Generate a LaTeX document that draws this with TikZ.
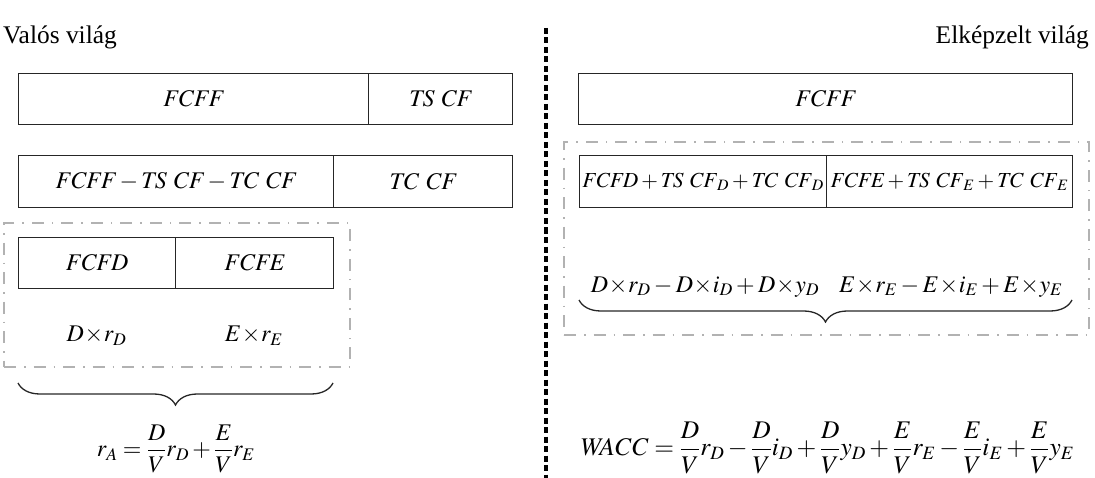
\documentclass[tikz,border=0pt]{standalone}
\usepackage{amsmath}
\usepackage{mathptmx}
\usepackage{fontspec}
\setmainfont{Liberation Serif}
\usetikzlibrary{decorations.pathreplacing}
\newcommand\tms{\!\times\!}
\begin{document}
\begin{tikzpicture}[x=1bp,y=-1bp,
  font=\fontsize{24}{28}\selectfont,
  title/.style={font=\fontsize{25.5}{30}\selectfont, inner sep=0pt},
  cell/.style={draw=black!85, line width=1.3bp, minimum height=51bp, inner sep=0pt, anchor=north west},
  small/.style={font=\fontsize{21.5}{26}\selectfont},
  gbox/.style={draw=black!30, line width=2.2bp, dash pattern=on 12bp off 8bp on 1.5bp off 8bp, inner sep=0pt, anchor=north west},
  sep/.style={draw=black, line width=3.2bp, dash pattern=on 6bp off 3.5bp},
  cbrace/.style={draw=black!85, line width=1.3bp, decorate, decoration={brace, mirror, amplitude=22bp}}
]
\useasboundingbox (0,0) rectangle (1095,478);

% titles
\node[title, anchor=base west] (valos) at (3,44) {Valós világ};
\node[title, anchor=base east] (elk) at (1089,44) {Elképzelt világ};

% separator
\coordinate (septop) at (546,28);
\coordinate (sepbot) at (546,478);
\draw[sep] (septop) -- (sepbot);

% ---------- left ----------
\node[cell, minimum width=350bp] (fcff) at (18,73) {$\mathit{FCFF}$};
\node[cell, minimum width=144bp] (tscf) at (368,73) {$\mathit{TS}\ \mathit{CF}$};

\node[cell, minimum width=315bp, minimum height=52bp] (net) at (18,155) {$\mathit{FCFF}-\mathit{TS}\ \mathit{CF}-\mathit{TC}\ \mathit{CF}$};
\node[cell, minimum width=179bp, minimum height=52bp] (tccf) at (333,155) {$\mathit{TC}\ \mathit{CF}$};

\node[gbox, minimum width=346bp, minimum height=144bp] (lgrp) at (3,222) {};
\node[cell, minimum width=157bp] (fcfd) at (18,237) {$\mathit{FCFD}$};
\node[cell, minimum width=158bp] (fcfe) at (175,237) {$\mathit{FCFE}$};
\node (dr) at (96.5,336) {$D\tms r_D$};
\node (er) at (254,336) {$E\tms r_E$};

\coordinate (lb1) at (18,383);
\coordinate (lb2) at (333,383);
\draw[cbrace] (lb1) -- (lb2);
\node (ra) at (176,449) {$r_A=\dfrac{D}{V}r_D+\dfrac{E}{V}r_E$};

% ---------- right ----------
\node[cell, minimum width=494bp] (rfcff) at (578,73) {$\mathit{FCFF}$};
\node[gbox, minimum width=525bp, minimum height=193bp] (rgrp) at (563,141) {};
\node[cell, small, minimum width=247bp, minimum height=52bp] (rd) at (579,155) {$\medmuskip=2.5mu\relax \mathit{FCFD}+\mathit{TS}\ \mathit{CF}_D+\mathit{TC}\ \mathit{CF}_D$};
\node[cell, small, minimum width=246bp, minimum height=52bp] (re) at (826,155) {$\medmuskip=2.5mu\relax \mathit{FCFE}+\mathit{TS}\ \mathit{CF}_E+\mathit{TC}\ \mathit{CF}_E$};
\node (rdd) at (705,287) {$D\tms r_D-D\tms i_D+D\tms y_D$};
\node (ree) at (951,287) {$E\tms r_E-E\tms i_E+E\tms y_E$};

\coordinate (rb1) at (579,300);
\coordinate (rb2) at (1072,300);
\draw[cbrace] (rb1) -- (rb2);
\node[font=\fontsize{25.5}{30}\selectfont] (wacc) at (827,448) {$\mathit{WACC}=\dfrac{D}{V}r_D-\dfrac{D}{V}i_D+\dfrac{D}{V}y_D+\dfrac{E}{V}r_E-\dfrac{E}{V}i_E+\dfrac{E}{V}y_E$};
\end{tikzpicture}
\end{document}
